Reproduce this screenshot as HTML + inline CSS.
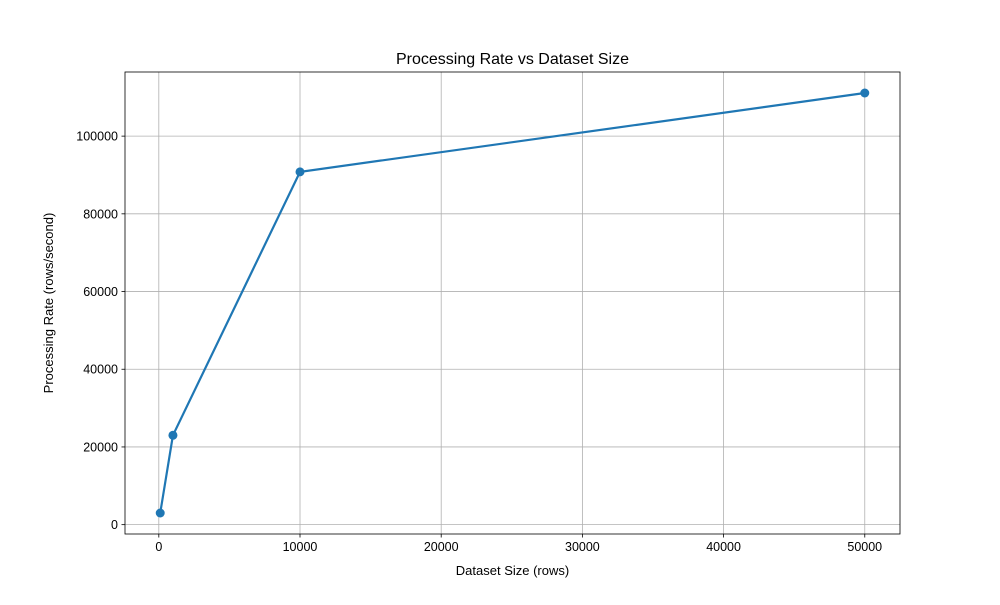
<!DOCTYPE html>
<html><head><meta charset="utf-8"><style>
body{margin:0;background:#fff;font-family:"Liberation Sans","DejaVu Sans",sans-serif}
</style></head><body>
<svg id="chart" width="1000" height="600" xmlns="http://www.w3.org/2000/svg"></svg>
<script>
const xValues=[100,1000,10000,50000];
const yValues=[3000,23000,90800,111100];
const xTicks=[0,10000,20000,30000,40000,50000];
const yTicks=[0,20000,40000,60000,80000,100000];
const L=125,R=900,T=72,B=534;
const xmin=-2395,xmax=52495,ymin=-2405,ymax=116505;
const sx=v=>L+(v-xmin)/(xmax-xmin)*(R-L);
const sy=v=>B-(v-ymin)/(ymax-ymin)*(B-T);
const svg=document.getElementById('chart');
const NS='http://www.w3.org/2000/svg';
function mk(tag,attrs,parent){const e=document.createElementNS(NS,tag);for(const k in attrs)e.setAttribute(k,attrs[k]);(parent||svg).appendChild(e);return e;}
const grid=mk('g',{});


xTicks.forEach(t=>{
 const x=sx(t);
 mk('line',{x1:x,x2:x,y1:T,y2:B,stroke:'#b0b0b0','stroke-width':0.8},grid);
 mk('line',{x1:x,x2:x,y1:B,y2:B+3.5,stroke:'#000','stroke-width':0.8});
 const tx=mk('text',{x:x,y:B+17,'text-anchor':'middle','font-size':12.5,fill:'#000'});
 tx.textContent=t;
 
 
});
yTicks.forEach(t=>{
 const y=sy(t);
 mk('line',{x1:L,x2:R,y1:y,y2:y,stroke:'#b0b0b0','stroke-width':0.8},grid);
 mk('line',{x1:L-3.5,x2:L,y1:y,y2:y,stroke:'#000','stroke-width':0.8});
 const tx=mk('text',{x:L-7,y:y+4.5,'text-anchor':'end','font-size':12.5,fill:'#000'});
 tx.textContent=t;
 
 
});
const line=mk('polyline',{points:xValues.map((v,i)=>sx(v)+','+sy(yValues[i])).join(' '),fill:'none',stroke:'#1f77b4','stroke-width':2.2});


xValues.forEach((v,i)=>{
 const c=mk('circle',{cx:sx(v),cy:sy(yValues[i]),r:4.5,fill:'#1f77b4'});
 
 
});
const frame=mk('rect',{x:L,y:T,width:R-L,height:B-T,fill:'none',stroke:'#000','stroke-width':0.8});


const title=mk('text',{x:(L+R)/2,y:64,'text-anchor':'middle','font-size':16,fill:'#000'});
title.textContent='Processing Rate vs Dataset Size';


const xl=mk('text',{x:(L+R)/2,y:575,'text-anchor':'middle','font-size':13,fill:'#000'});
xl.textContent='Dataset Size (rows)';


const yl=mk('text',{x:0,y:0,'text-anchor':'middle','font-size':13,fill:'#000',transform:'translate(53,'+((T+B)/2)+') rotate(-90)'});
yl.textContent='Processing Rate (rows/second)';


</script>
</body></html>
